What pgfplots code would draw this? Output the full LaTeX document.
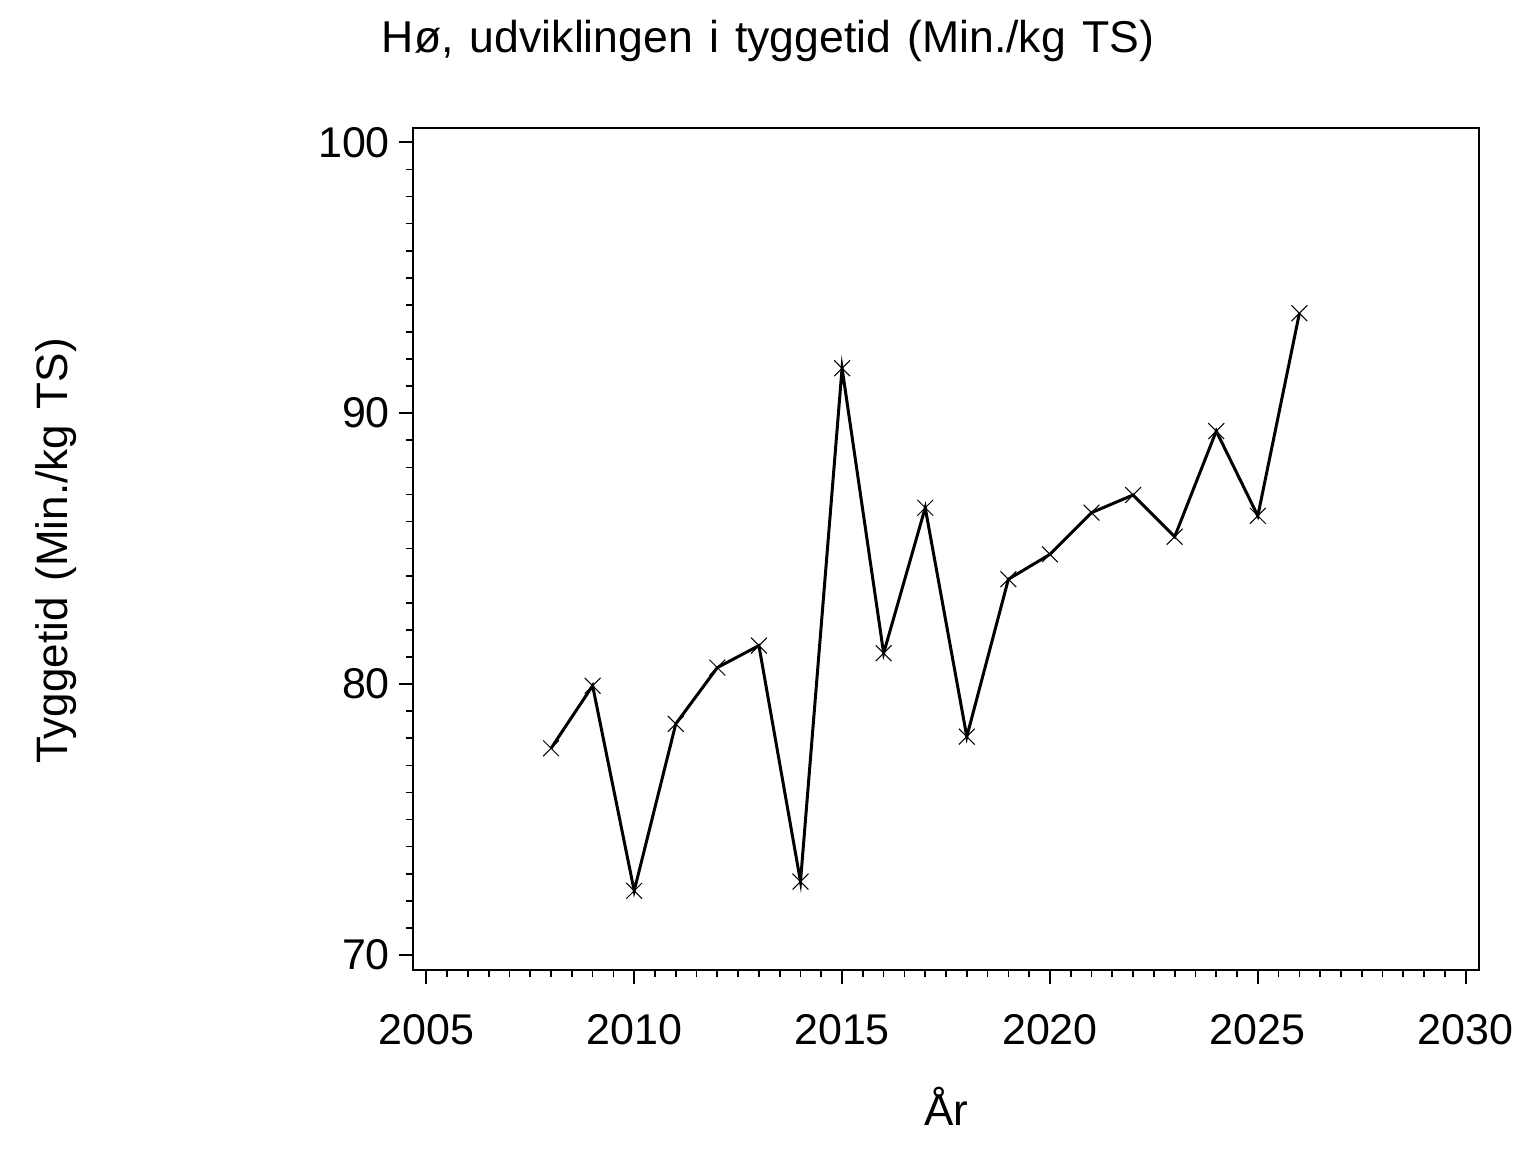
\documentclass[border=0pt]{standalone}
\usepackage{pgfplots}
\pgfplotsset{compat=1.18}
\usepackage{fontspec}
\setmainfont{Liberation Sans}[WordSpace=1.3]
\pgfplotstableread{
year val
2008 77.63
2009 79.94
2010 72.37
2011 78.53
2012 80.61
2013 81.42
2014 72.71
2015 91.66
2016 81.14
2017 86.51
2018 78.06
2019 83.87
2020 84.79
2021 86.33
2022 86.98
2023 85.44
2024 89.34
2025 86.21
2026 93.69
}\datatable
\begin{document}
\begin{tikzpicture}[x=1pt,y=1pt]
\useasboundingbox (0,0) rectangle (768,576);
\node[anchor=base,font=\fontsize{22.3}{22}\selectfont] at (384,549.5) {Hø, udviklingen i tyggetid (Min./kg TS)};
\node[anchor=base,rotate=90,font=\fontsize{22}{22}\selectfont] at (33.5,300.5) {Tyggetid (Min./kg TS)};
\node[anchor=base,font=\fontsize{22}{22}\selectfont] at (473,13.5) {År};
\begin{axis}[
  at={(206.65pt,90.85pt)}, anchor=south west,
  scale only axis, width=532.7pt, height=421pt,
  xmin=2004.687, xmax=2030.313,
  ymin=69.435, ymax=100.517,
  xtick={2005,2010,2015,2020,2025,2030},
  xticklabels={2005,2010,2015,2020,2025,2030},
  ytick={70,80,90,100},
  yticklabels={70,80,90,100},
  minor x tick num=9, minor y tick num=9,
  tick align=outside, tick pos=left,
  major tick length=7pt, minor tick length=3.5pt,
  axis line style={line width=0.85pt},
  every tick/.style={black, line width=0.85pt},
  xticklabel style={font=\fontsize{21.5}{21}\selectfont, anchor=base, inner sep=0pt, yshift=-30pt},
  yticklabel style={font=\fontsize{21.5}{21}\selectfont, anchor=east, inner sep=0pt, xshift=-4.5pt},
  clip=false,
]
\addplot[black, line width=1.5pt, mark=x, mark size=5.6pt, mark options={line width=0.5pt}] table[x=year,y=val] {\datatable};
\end{axis}
\end{tikzpicture}
\end{document}
